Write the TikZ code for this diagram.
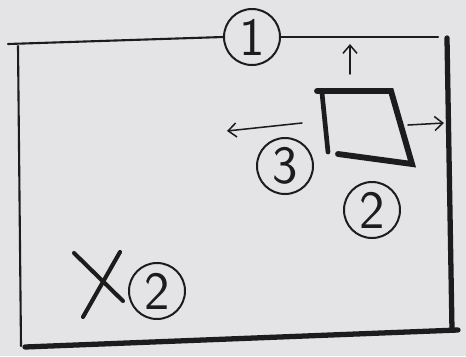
\documentclass[tikz,border=0pt]{standalone}
\usepackage{fontspec}
\usepackage{tikz}
\usetikzlibrary{arrows.meta, positioning}
\definecolor{PaperGray}{HTML}{E4E4E7}
\definecolor{InkBlack}{HTML}{1C1C1C}

\begin{document}
\begin{tikzpicture}[x=0.03cm, y=-0.03cm,
  num/.style={circle, draw=InkBlack, line width=1.7pt, minimum size=1.68cm, inner sep=0pt, text=InkBlack, font=\sffamily\fontsize{46}{46}\selectfont},
  edge_thin/.style={InkBlack, line width=1.8pt, line cap=round},
  edge_thick/.style={InkBlack, line width=4.5pt, line cap=round},
  move/.style={-{Straight Barb[length=7pt, width=12pt]}, InkBlack, line width=1.3pt, line cap=round},
]
  \fill[PaperGray] (0,0) rectangle (466,356);
  % corners of the sheet
  \coordinate (tl) at (8,44);
  \coordinate (tr) at (438,37);
  \coordinate (lt) at (18,46);
  \coordinate (lb) at (21,346);
  \coordinate (rt) at (447,38);
  \coordinate (rb) at (452,330);
  \coordinate (bl) at (25,347);
  \coordinate (br) at (458,330);
  % circled numbers
  \node[num] (one) at (252,37) {1};
  \node[num] (three) at (285,166) {3};
  \node[num] (twoR) at (372,210) {2};
  \node[num] (twoL) at (157,291) {2};
  % frame
  \draw[edge_thin] (tl) -- (one.west);
  \draw[edge_thin] (one.east) -- (tr);
  \draw[edge_thin] (lt) -- (lb);
  \draw[edge_thick] (rt) -- (rb);
  \draw[edge_thick] (bl) -- (br);
  % the window
  \coordinate (q1) at (317,91);
  \coordinate (q2) at (391,91);
  \coordinate (q3) at (412,164);
  \coordinate (q4) at (338,154);
  \draw[edge_thick, line width=5pt] (q1) -- (q2) -- (q3) -- (q4);
  \draw[edge_thick, line width=4pt] (322,93) -- (328,152);
  % moves
  \coordinate (upS) at (350,74);
  \coordinate (upE) at (350,44);
  \coordinate (rS) at (408,125);
  \coordinate (rE) at (444,123);
  \coordinate (lS) at (302,123);
  \coordinate (lE) at (227,131);
  \draw[move] (upS) -- (upE);
  \draw[move] (rS) -- (rE);
  \draw[move] (lS) -- (lE);
  % the cross
  \draw[edge_thick, line width=3.5pt] (74,253) -- (123,301);
  \draw[edge_thick, line width=3.5pt] (120,252) -- (83,317);
\end{tikzpicture}
\end{document}
